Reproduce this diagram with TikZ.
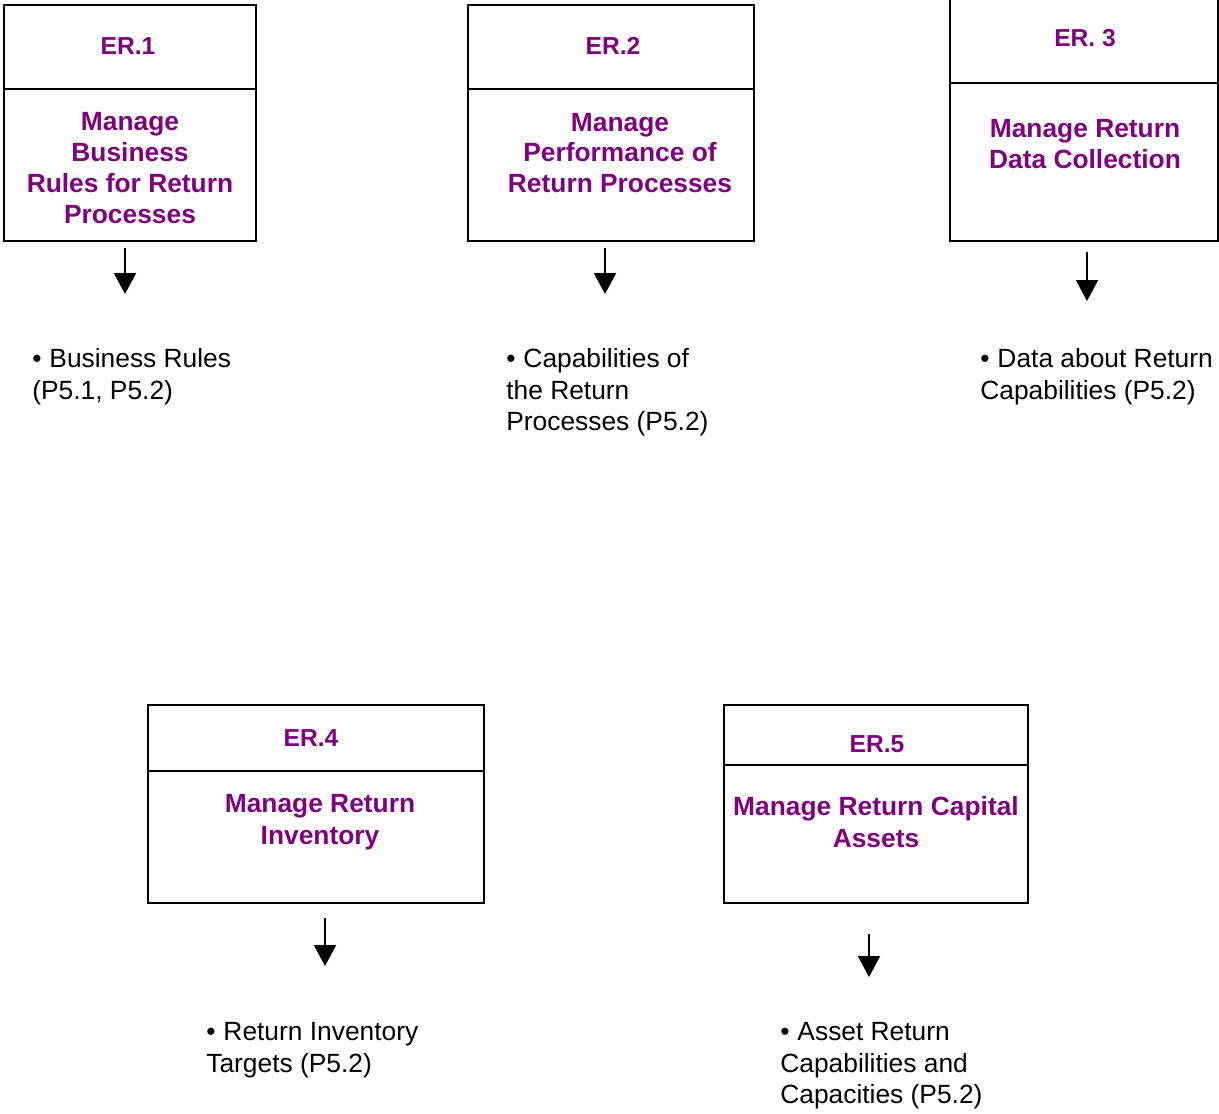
\documentclass[tikz,border=0pt]{standalone}
\usepackage{fontspec}
\setmainfont{Liberation Sans}
\usetikzlibrary{arrows.meta}
\definecolor{erpurple}{RGB}{128,0,128}
\newcommand{\outbullet}{•\hspace{0.3em}}

\begin{document}
\begin{tikzpicture}[x=0.02cm, y=-0.02cm,
    box/.style={draw, line width=1.1pt, inner sep=0pt},
    title/.style={text=erpurple, font=\fontsize{14}{17}\selectfont\bfseries, inner sep=0pt},
    task/.style={text=erpurple, font=\fontsize{15}{17.5}\selectfont\bfseries, align=center, inner sep=0pt},
    output/.style={font=\fontsize{15}{18}\selectfont, align=left, anchor=north west, inner sep=0pt},
    flow/.style={-{Triangle[width=0.44cm, length=0.42cm]}, line width=1.1pt}]

    \useasboundingbox (0,0) rectangle (1219,1113);

    % Riquadri superiori
    \node[box, minimum width=5.04cm, minimum height=1.68cm] (er1_head) at (130,47) {};
    \node[box, minimum width=5.04cm, minimum height=3.04cm] (er1_body) at (130,165) {};
    \node[box, minimum width=5.72cm, minimum height=1.68cm] (er2_head) at (611,47) {};
    \node[box, minimum width=5.72cm, minimum height=3.04cm] (er2_body) at (611,165) {};
    \node[box, minimum width=5.36cm, minimum height=1.72cm] (er3_head) at (1084,40) {};
    \node[box, minimum width=5.36cm, minimum height=3.16cm] (er3_body) at (1084,162) {};

    % Riquadri inferiori
    \node[box, minimum width=6.72cm, minimum height=1.32cm] (er4_head) at (316,738) {};
    \node[box, minimum width=6.72cm, minimum height=2.64cm] (er4_body) at (316,837) {};
    \node[box, minimum width=6.08cm, minimum height=1.20cm] (er5_head) at (876,735) {};
    \node[box, minimum width=6.08cm, minimum height=2.76cm] (er5_body) at (876,834) {};

    % Titoli
    \node[title] (er1_title) at (128,46) {ER.1};
    \node[title] (er2_title) at (613,46) {ER.2};
    \node[title] (er3_title) at (1085,38) {ER. 3};
    \node[title] (er4_title) at (311,738) {ER.4};
    \node[title] (er5_title) at (877,744) {ER.5};

    % Processi
    \node[task] (er1_task) at (130,168) {Manage\\Business\\Rules for Return\\Processes};
    \node[task] (er2_task) at (620,153) {Manage\\Performance of\\Return Processes};
    \node[task] (er3_task) at (1085,144) {Manage Return\\Data Collection};
    \node[task, font=\fontsize{15}{18.2}\selectfont\bfseries] (er4_task) at (320,822) {Manage Return\\Inventory};
    \node[task, font=\fontsize{15}{18.2}\selectfont\bfseries] (er5_task) at (876,822) {Manage Return Capital\\Assets};

    % Risultati
    \node[output] (er1_out) at (32,348) {\outbullet Business Rules\\(P5.1, P5.2)};
    \node[output] (er2_out) at (506,348) {\outbullet Capabilities of\\the Return\\Processes (P5.2)};
    \node[output] (er3_out) at (980,348) {\outbullet Data about Return\\Capabilities (P5.2)};
    \node[output] (er4_out) at (206,1022) {\outbullet Return Inventory\\Targets (P5.2)};
    \node[output] (er5_out) at (780,1022) {\outbullet Asset Return\\Capabilities and\\Capacities (P5.2)};

    % Frecce
    \coordinate (er1_tip) at (125,294);
    \coordinate (er2_tip) at (605,294);
    \coordinate (er3_tip) at (1087,301);
    \coordinate (er4_tip) at (325,966);
    \coordinate (er5_tip) at (869,977);
    \draw[flow, shorten <=0.12cm] (er1_body.south -| er1_tip) -- (er1_tip);
    \draw[flow, shorten <=0.12cm] (er2_body.south -| er2_tip) -- (er2_tip);
    \draw[flow, shorten <=0.20cm] (er3_body.south -| er3_tip) -- (er3_tip);
    \draw[flow, shorten <=0.28cm] (er4_body.south -| er4_tip) -- (er4_tip);
    \draw[flow, shorten <=0.60cm] (er5_body.south -| er5_tip) -- (er5_tip);
\end{tikzpicture}
\end{document}
